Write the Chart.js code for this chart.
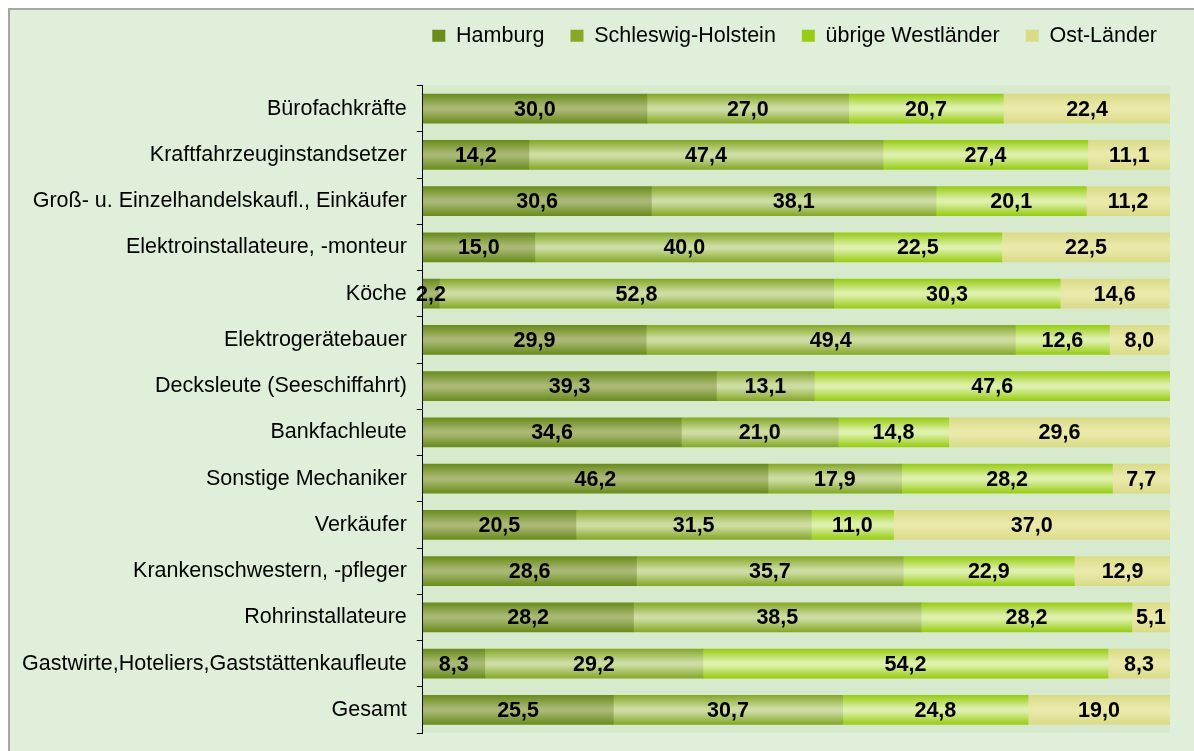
<!DOCTYPE html>
<html>
<head>
<meta charset="utf-8">
<script src="https://cdn.jsdelivr.net/npm/chart.js@4/dist/chart.umd.min.js"></script>
<style>
    body { margin: 0; background: #fff; }
    #box {
        position: absolute; left: 8px; top: 8px;
        width: 1190px; height: 760px;
        box-sizing: border-box;
        border: 2px solid #a6a6a6;
        background: #dfefd9;
    }
</style>
</head>
<body>
<div id="box"><canvas id="chart" width="1186" height="756"></canvas></div>
<script>
// Kategorien (Berufe)
const berufe = [
    'Bürofachkräfte',
    'Kraftfahrzeuginstandsetzer',
    'Groß- u. Einzelhandelskaufl., Einkäufer',
    'Elektroinstallateure, -monteur',
    'Köche',
    'Elektrogerätebauer',
    'Decksleute (Seeschiffahrt)',
    'Bankfachleute',
    'Sonstige Mechaniker',
    'Verkäufer',
    'Krankenschwestern, -pfleger',
    'Rohrinstallateure',
    'Gastwirte,Hoteliers,Gaststättenkaufleute',
    'Gesamt'
];

// Anteile in %
const hamburg      = [30.0, 14.2, 30.6, 15.0,  2.2, 29.9, 39.3, 34.6, 46.2, 20.5, 28.6, 28.2,  8.3, 25.5];
const schleswigH   = [27.0, 47.4, 38.1, 40.0, 52.8, 49.4, 13.1, 21.0, 17.9, 31.5, 35.7, 38.5, 29.2, 30.7];
const westlaender  = [20.7, 27.4, 20.1, 22.5, 30.3, 12.6, 47.6, 14.8, 28.2, 11.0, 22.9, 28.2, 54.2, 24.8];
const ostlaender   = [22.4, 11.1, 11.2, 22.5, 14.6,  8.0,  0.0, 29.6,  7.7, 37.0, 12.9,  5.1,  8.3, 19.0];

const BAR_H = 29;
const SCHRIFT = '"Liberation Sans", Arial, sans-serif';

// Farbverlauf pro Balken: dunkle Kanten, helle Mitte (Legende: Mittelton)
function verlauf(kante, mitte, legende) {
    return function(ctx) {
        const chart = ctx.chart;
        if (ctx.type !== 'data' || !chart.chartArea) return legende;
        const y = chart.scales.y.getPixelForValue(ctx.dataIndex);
        const g = chart.ctx.createLinearGradient(0, y - BAR_H / 2, 0, y + BAR_H / 2);
        g.addColorStop(0, kante);
        g.addColorStop(0.45, mitte);
        g.addColorStop(0.55, mitte);
        g.addColorStop(1, kante);
        return g;
    };
}

// Hintergrund der Zeichenfläche
const plotHintergrund = {
    id: 'plotHintergrund',
    beforeDraw(chart) {
        const { ctx, chartArea: a } = chart;
        ctx.save();
        ctx.fillStyle = '#d8eace';
        ctx.fillRect(a.left, a.top, a.right - a.left, a.bottom - a.top);
        ctx.restore();
    }
};

// Abstand unter der Legende, Legende etwas nach rechts
const legendenAbstand = {
    id: 'legendenAbstand',
    beforeInit(chart) {
        const fit = chart.legend.fit;
        chart.legend.fit = function() {
            fit.bind(chart.legend)();
            this.height += 29;
        };
    },
    afterLayout(chart) {
        chart.legend.right += 13;
    }
};

// Werte in die Balken schreiben
const werteBeschriftung = {
    id: 'werteBeschriftung',
    afterDatasetsDraw(chart) {
        const ctx = chart.ctx;
        ctx.save();
        ctx.font = 'bold 21.5px ' + SCHRIFT;
        ctx.fillStyle = '#000';
        ctx.textAlign = 'center';
        ctx.textBaseline = 'middle';
        chart.data.datasets.forEach((ds, i) => {
            chart.getDatasetMeta(i).data.forEach((bar, j) => {
                const v = ds.data[j];
                if (!v) return;
                const x = (bar.x + bar.base) / 2;
                ctx.fillText(v.toFixed(1).replace('.', ','), x, bar.y + 1);
            });
        });
        ctx.restore();
    }
};

new Chart(document.getElementById('chart'), {
    type: 'bar',
    data: {
        labels: berufe,
        datasets: [
            { label: 'Hamburg', data: hamburg, backgroundColor: verlauf('#6a8c1c', '#a9b874', '#7e9a36') },
            { label: 'Schleswig-Holstein', data: schleswigH, backgroundColor: verlauf('#86a828', '#cddca2', '#a3bf58') },
            { label: 'übrige Westländer', data: westlaender, backgroundColor: verlauf('#98cc14', '#def0ac', '#b2dc48') },
            { label: 'Ost-Länder', data: ostlaender, backgroundColor: verlauf('#dadb88', '#ebe9aa', '#e2e29a') }
        ]
    },
    options: {
        indexAxis: 'y',
        responsive: false,
        animation: false,
        datasets: { bar: { barThickness: BAR_H, borderWidth: 0 } },
        layout: { padding: { left: 2, right: 26, top: -11, bottom: 33 } },
        scales: {
            x: {
                stacked: true,
                min: 0,
                max: 100,
                display: false
            },
            y: {
                stacked: true,
                border: { display: true, color: '#000', width: 1 },
                grid: {
                    offset: true,
                    drawOnChartArea: false,
                    tickLength: 6,
                    color: '#000'
                },
                ticks: {
                    color: '#000',
                    padding: 10,
                    font: { family: SCHRIFT, size: 21.5 }
                }
            }
        },
        plugins: {
            legend: {
                position: 'top',
                align: 'end',
                labels: {
                    color: '#000',
                    boxWidth: 13,
                    boxHeight: 12,
                    padding: 26,
                    font: { family: SCHRIFT, size: 21.5 }
                }
            },
            tooltip: { enabled: false }
        }
    },
    plugins: [plotHintergrund, legendenAbstand, werteBeschriftung]
});
</script>
</body>
</html>
